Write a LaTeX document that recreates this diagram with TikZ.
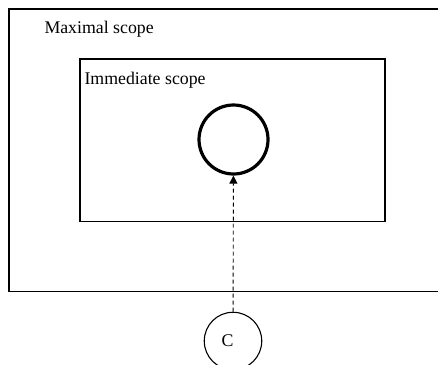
\documentclass[tikz,border=0pt]{standalone}
\usepackage{fontspec}
\setmainfont{Liberation Serif}
\usepackage{tikz}
\usetikzlibrary{arrows.meta,positioning}

\begin{document}
\begin{tikzpicture}[
            x=1pt, y=-1pt,
            font=\fontsize{17.8}{20}\selectfont,
            scopebox/.style={rectangle, draw, line width=1.4pt, inner sep=0pt},
            scopelabel/.style={inner sep=0pt},
            every path/.style={>=Stealth}
          ]
          \clip (0,0) rectangle (438,364);

          % Scope boxes
          \node[scopebox, minimum width=437pt, minimum height=282.5pt] (maximal) at (227.5,150.25) {};
          \node[scopebox, minimum width=305pt, minimum height=162.5pt] (immediate) at (232.5,140.25) {};
          \node[scopelabel, below right=13pt and 36pt of maximal.north west] (maxlabel) {Maximal scope};
          \node[scopelabel, below right=14pt and 5pt of immediate.north west] (immlabel) {Immediate scope};

          % Circles
          \node[circle, draw, line width=3.2pt, minimum size=69pt] (target) at (233.5,139.5) {};
          \node[circle, draw, line width=1.1pt, minimum size=57.5pt, inner sep=0pt,
                label={[xshift=-5.5pt]center:C}] (c) at (233,341) {};

          % Edge
          \draw[line width=0.9pt, dash pattern=on 4pt off 3pt, -{Triangle[length=8pt, width=8pt]}] (c) -- (target);

        \end{tikzpicture}
\end{document}
